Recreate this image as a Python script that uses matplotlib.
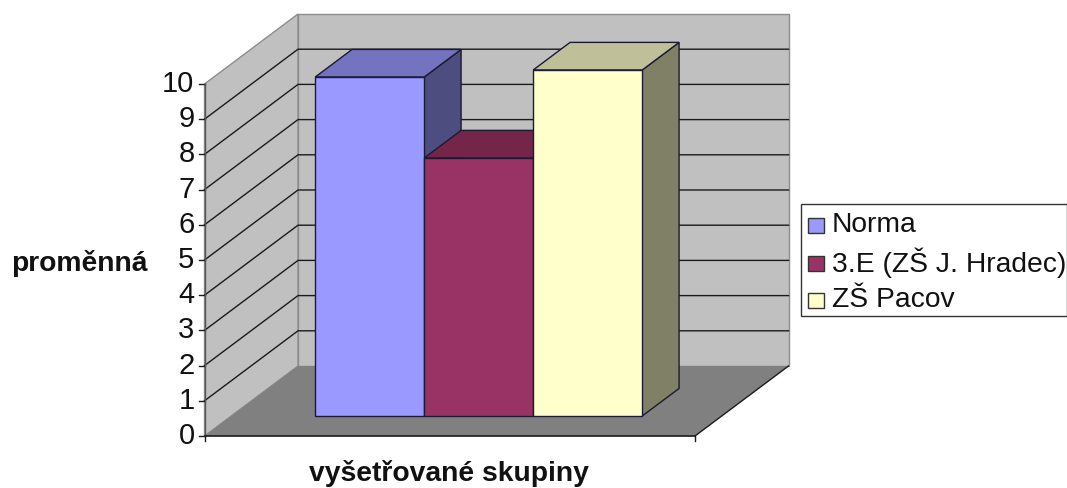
import matplotlib
matplotlib.use("Agg")
import matplotlib.pyplot as plt
from matplotlib.patches import Polygon, Rectangle

plt.rcParams['font.family'] = ['Liberation Sans', 'DejaVu Sans']

# data
groups = ["Norma", "3.E (ZŠ J. Hradec)", "ZŠ Pacov"]
values = [9.63, 7.33, 9.83]
ticks = list(range(0, 11))
colors = ["#9999FF", "#993366", "#FFFFCC"]
top_colors = ["#7373BF", "#732649", "#BFBF99"]
side_colors = ["#4D4D80", "#4D1933", "#808066"]
ylabel = "proměnná"
xlabel = "vyšetřované skupiny"

# chart frame in pixels, the axes runs in image pixels
X0, X1 = 204.5, 695
Y0 = 436
UNIT = 35.2
DX, DY = 93.5, -70
BAR_X0 = 288.5
BAR_W = 109
Z0, Z1 = 0.286, 0.68


def proj(x, v, z):
    # x along front edge, v value, z depth 0..1
    return (x + DX * z, Y0 - UNIT * v + DY * z)


def poly(ax, pts, fc, ec="none", lw=0, zorder=1):
    ax.add_patch(Polygon(pts, closed=True, fc=fc, ec=ec, lw=lw, zorder=zorder, joinstyle="miter"))


fig = plt.figure(figsize=(10.67, 4.88), dpi=100)
ax = fig.add_axes([0, 0, 1, 1])
ax.set_xlim(0, 1067)
ax.set_ylim(488, 0)
ax.axis("off")

vmax = ticks[-1]
# walls and floor
poly(ax, [proj(X0, 0, 1), proj(X1, 0, 1), proj(X1, vmax, 1), proj(X0, vmax, 1)], "#C0C0C0", "#8C8C8C", 1)
poly(ax, [proj(X0, 0, 0), proj(X0, 0, 1), proj(X0, vmax, 1), proj(X0, vmax, 0)], "#C0C0C0", "#8C8C8C", 1)
poly(ax, [proj(X0, 0, 0), proj(X1, 0, 0), proj(X1, 0, 1), proj(X0, 0, 1)], "#808080")

# gridlines
for t in ticks[1:-1]:
    pts = [proj(X0, t, 0), proj(X0, t, 1), proj(X1, t, 1)]
    ax.plot(*zip(*pts), color="#1A1A1A", lw=1, zorder=2)
for t in ticks:
    ax.plot(*zip(proj(X0 - 6, t, 0), proj(X0, t, 0)), color="#1A1A1A", lw=1, zorder=2)
    ax.text(X0 - 10, Y0 - UNIT * t, str(t), ha="right", va="center", fontsize=21, color="#111111")

# axis lines at the front
ax.plot(*zip(proj(X0, 0, 0), proj(X0, vmax, 0)), color="#555555", lw=1, zorder=2)
ax.plot(*zip(proj(X0, 0, 0), proj(X1, 0, 0)), color="#1A1A1A", lw=1.2, zorder=2)
ax.plot(*zip(proj(X0, 0, 0), proj(X0, -0.15, 0)), color="#1A1A1A", lw=1, zorder=2)
ax.plot(*zip(proj(X1, 0, 0), proj(X1, -0.15, 0)), color="#1A1A1A", lw=1, zorder=2)
ax.plot(*zip(proj(X1, 0, 0), proj(X1, 0, 1)), color="#1A1A1A", lw=1, zorder=2)

# bars
for i, v in enumerate(values):
    x0 = BAR_X0 + i * BAR_W
    x1 = x0 + BAR_W
    ec = "#1A1A33"
    z = 3 + i
    poly(ax, [proj(x1, 0, Z0), proj(x1, 0, Z1), proj(x1, v, Z1), proj(x1, v, Z0)], side_colors[i], ec, 1, z)
    poly(ax, [proj(x0, v, Z0), proj(x0, v, Z1), proj(x1, v, Z1), proj(x1, v, Z0)], top_colors[i], ec, 1, z)
    poly(ax, [proj(x0, 0, Z0), proj(x1, 0, Z0), proj(x1, v, Z0), proj(x0, v, Z0)], colors[i], ec, 1, z)

# axis titles
ax.text(79.5, 271, ylabel, ha="center", va="baseline", fontsize=20.3, fontweight="bold", color="#111111")
ax.text(449, 481, xlabel, ha="center", va="baseline", fontsize=20.3, fontweight="bold", color="#111111")

# legend
ax.add_patch(Rectangle((801, 204), 266, 112, fc="white", ec="#333333", lw=1, zorder=8, clip_on=False))
for i, name in enumerate(groups):
    y = 225 + i * 37.5
    ax.add_patch(Rectangle((808, y - 7), 16, 15, fc=colors[i], ec="#333333", lw=1, zorder=9))
    ax.text(832, y, name, ha="left", va="center", fontsize=20.3, color="#111111", zorder=9)

fig.savefig("out.png", dpi=100)
